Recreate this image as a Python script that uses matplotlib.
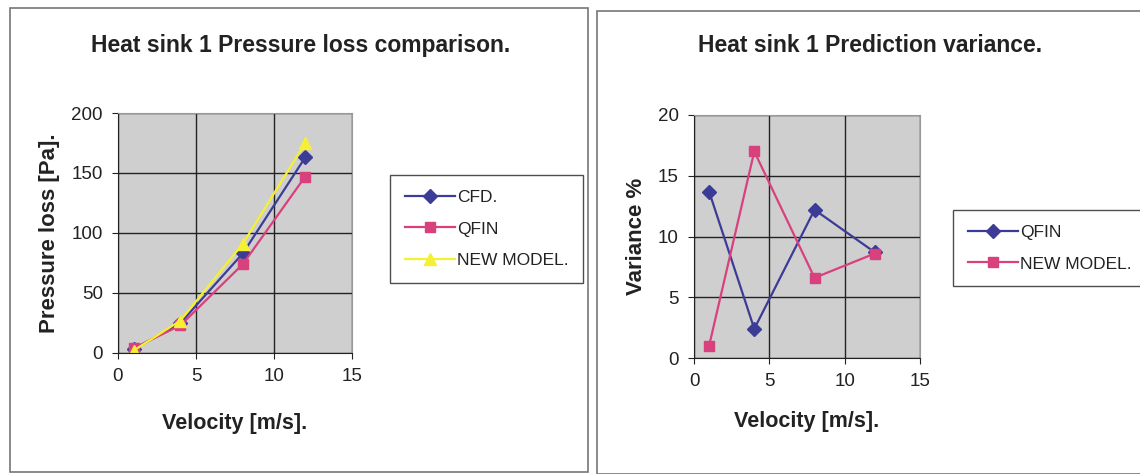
import matplotlib.pyplot as plt
from matplotlib.patches import Rectangle

plt.rcParams['font.family'] = ['Liberation Sans', 'DejaVu Sans']

# velocity points [m/s]
velocity = [1, 4, 8, 12]

# pressure loss [Pa]
cfd = [3, 25, 83, 163]
qfin = [4, 23, 74, 147]
new_model = [2, 27, 91, 175]

# prediction variance [%]
var_qfin = [13.7, 2.4, 12.2, 8.7]
var_new = [1.0, 17.0, 6.6, 8.6]

navy = '#3c3c96'
pink = '#d9407e'
yellow = '#f5f032'
plot_bg = '#cfcfcf'
ink = '#222222'

fig = plt.figure(figsize=(11.4, 4.74), dpi=100)

# panel frames
fig.patches.append(Rectangle((0.0088, 0.004), 0.507, 0.979, transform=fig.transFigure,
                             fill=False, edgecolor='#777777', lw=1.2))
fig.patches.append(Rectangle((0.5237, 0.0), 0.49, 0.977, transform=fig.transFigure,
                             fill=False, edgecolor='#777777', lw=1.2))


def style_axes(ax, ymax, ystep):
    ax.set_facecolor(plot_bg)
    ax.set_xlim(0, 15)
    ax.set_ylim(0, ymax)
    ax.set_xticks(range(0, 16, 5))
    ax.set_yticks(range(0, ymax + 1, ystep))
    ax.grid(True, color=ink, lw=1.0)
    ax.set_axisbelow(True)
    ax.tick_params(labelsize=13.5, length=4, direction='out', pad=7, colors=ink)
    for side in ['top', 'right']:
        ax.spines[side].set_color('#999999')
    for side in ['left', 'bottom']:
        ax.spines[side].set_color(ink)


def add_legend(ax, x0, y0):
    leg = ax.legend(loc='upper left', bbox_to_anchor=(x0 / 1140, 1 - y0 / 474),
                    bbox_transform=fig.transFigure, fontsize=12.5, frameon=True,
                    fancybox=False, edgecolor=ink, handlelength=2.9, labelspacing=0.95,
                    borderpad=0.85, handletextpad=0.1, borderaxespad=0)
    leg.get_frame().set_linewidth(1.0)
    for t in leg.get_texts():
        t.set_color(ink)


# left: pressure loss comparison
ax1 = fig.add_axes([0.1035, 0.2553, 0.2053, 0.5063])
style_axes(ax1, 200, 50)
ax1.plot(velocity, cfd, color=navy, marker='D', ms=7.5, lw=1.6, label='CFD.')
ax1.plot(velocity, qfin, color=pink, marker='s', ms=7.5, lw=1.6, label='QFIN')
ax1.plot(velocity, new_model, color=yellow, marker='^', ms=9, lw=1.6, label='NEW MODEL.')
ax1.set_xlabel('Velocity [m/s].', fontsize=15.5, fontweight='bold', labelpad=20, color=ink)
ax1.set_ylabel('Pressure loss [Pa].', fontsize=16, fontweight='bold', labelpad=8, color=ink)
fig.text(0.264, 1 - 52 / 474, 'Heat sink 1 Pressure loss comparison.', ha='center',
         va='baseline', fontsize=16.5, fontweight='bold', color=ink)
add_legend(ax1, 390, 175)

# right: prediction variance
ax2 = fig.add_axes([0.6088, 0.2447, 0.1982, 0.5127])
style_axes(ax2, 20, 5)
ax2.plot(velocity, var_qfin, color=navy, marker='D', ms=7.5, lw=1.6, label='QFIN')
ax2.plot(velocity, var_new, color=pink, marker='s', ms=7.5, lw=1.6, label='NEW MODEL.')
ax2.set_xlabel('Velocity [m/s].', fontsize=15.5, fontweight='bold', labelpad=15, color=ink)
ax2.set_ylabel('Variance %', fontsize=16, fontweight='bold', labelpad=8, color=ink)
fig.text(0.763, 1 - 52 / 474, 'Heat sink 1 Prediction variance.', ha='center',
         va='baseline', fontsize=16.5, fontweight='bold', color=ink)
add_legend(ax2, 953, 210)

fig.savefig('out.png', dpi=100)
